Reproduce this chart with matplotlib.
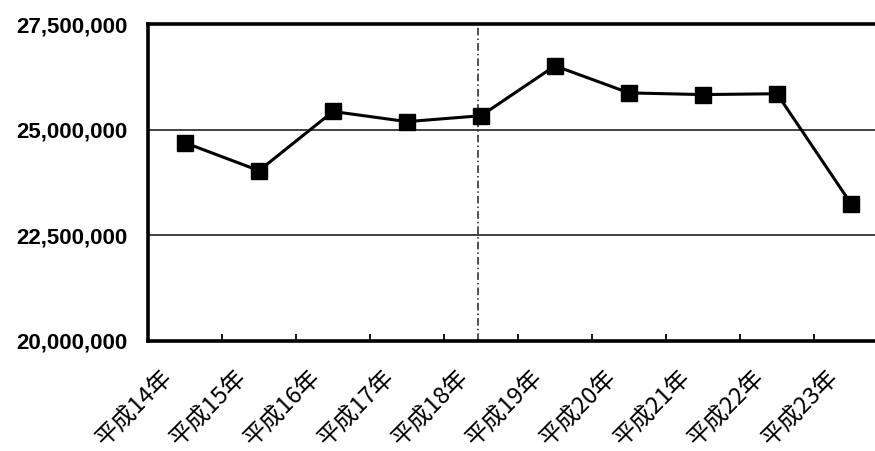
import matplotlib
matplotlib.use("Agg")
import matplotlib.pyplot as plt
from matplotlib.ticker import FuncFormatter, FixedLocator
from matplotlib.transforms import ScaledTranslation

categories = ["平成14年", "平成15年", "平成16年", "平成17年", "平成18年",
              "平成19年", "平成20年", "平成21年", "平成22年", "平成23年"]
values = [24690000, 24030000, 25430000, 25190000, 25330000,
          26510000, 25870000, 25830000, 25850000, 23250000]
y_ticks = [20000000, 22500000, 25000000, 27500000]

W, H, DPI = 875, 451, 100
fig = plt.figure(figsize=(W / DPI, H / DPI), dpi=DPI)
fig.patch.set_facecolor("white")

left, right, top, bottom = 148, 888, 24, 341
ax = fig.add_axes([left / W, 1 - bottom / H, (right - left) / W, (bottom - top) / H])

x = list(range(len(categories)))
ax.plot(x, values, color="black", linewidth=2.2, marker="s", markersize=12,
        markerfacecolor="black", markeredgecolor="black", zorder=5, clip_on=False)

ax.set_xlim(-0.5, len(categories) - 0.5)
ax.set_ylim(y_ticks[0], y_ticks[-1])
ax.set_yticks(y_ticks)
ax.yaxis.set_major_formatter(FuncFormatter(lambda v, p: f"{int(v):,}"))
ax.grid(axis="y", color="#222222", linewidth=1.2)
ax.set_axisbelow(True)

# scan fold line
ax.axvline(3.96, color="#222222", linewidth=1.1, linestyle=(0, (5, 2, 1, 2)), zorder=1)

for s in ["top", "left", "bottom"]:
    ax.spines[s].set_linewidth(2.6)
    ax.spines[s].set_color("black")
ax.spines["right"].set_visible(False)

ax.tick_params(axis="y", length=0, pad=15)
for lab in ax.get_yticklabels():
    lab.set_fontfamily("Liberation Sans")
    lab.set_fontsize(16)
    lab.set_fontweight("bold")

ax.set_xticks(x)
ax.set_xticklabels(categories, rotation=45, ha="right", va="top",
                   family=["Noto Sans CJK JP", "DejaVu Sans"], fontsize=17)
ax.tick_params(axis="x", which="major", length=0, pad=18)
ax.xaxis.set_minor_locator(FixedLocator([i + 0.5 for i in range(len(categories) - 1)]))
ax.tick_params(axis="x", which="minor", direction="in", length=5, width=1.3, color="black")
shift = ScaledTranslation(-8 / DPI, 0, fig.dpi_scale_trans)
for lab in ax.get_xticklabels():
    lab.set_transform(lab.get_transform() + shift)

fig.savefig("out.png", dpi=DPI, facecolor="white")
